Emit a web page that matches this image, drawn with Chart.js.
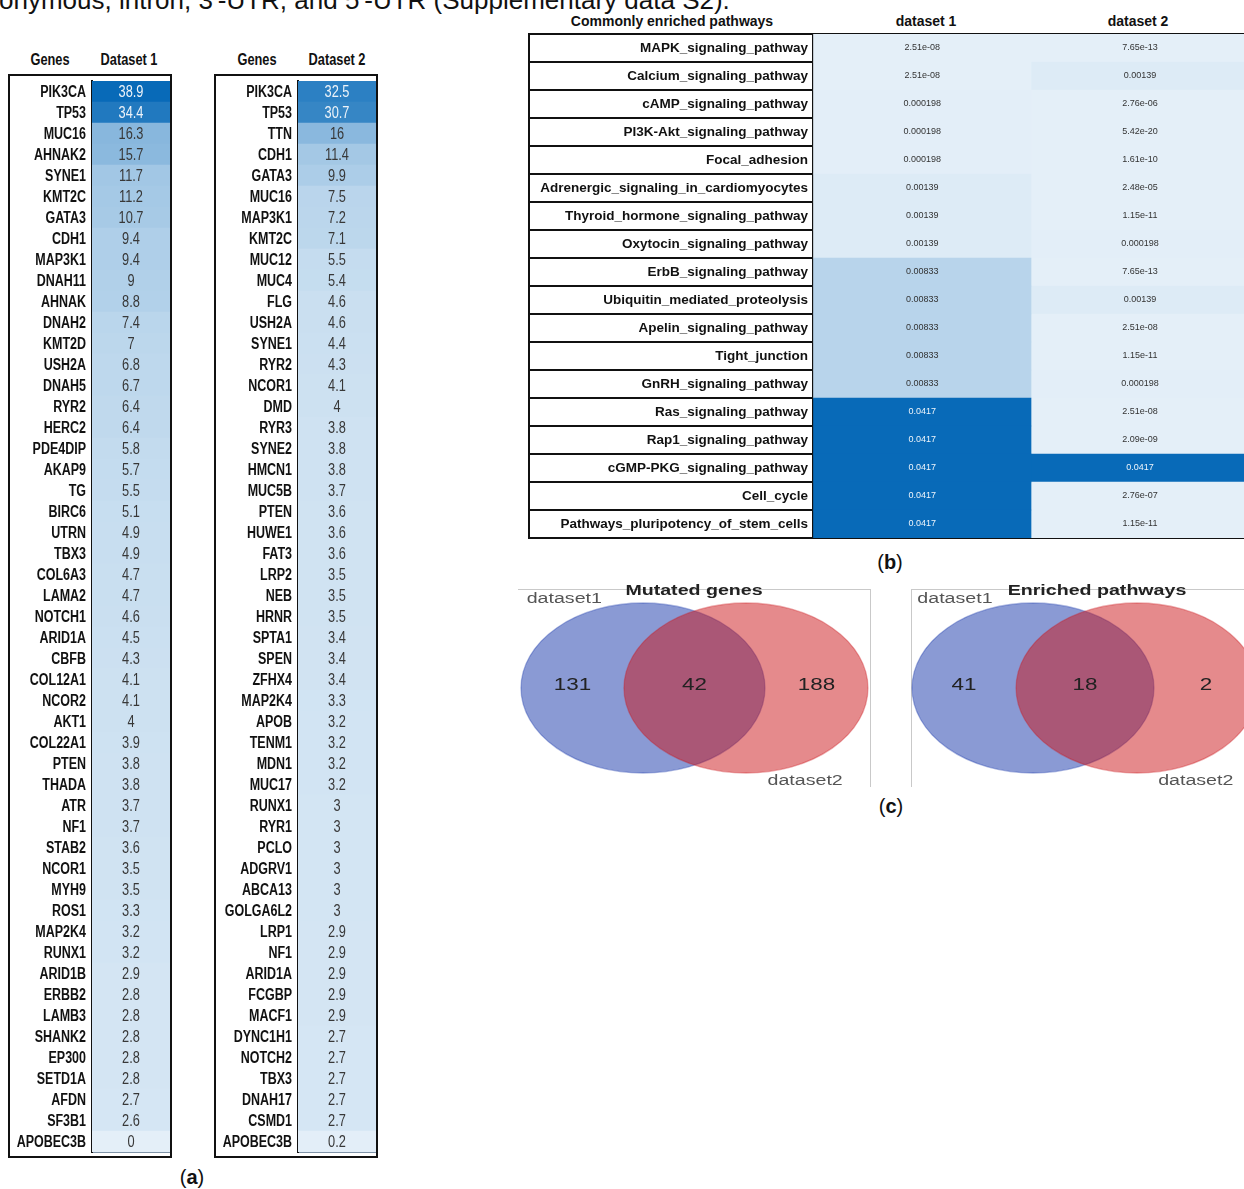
<!DOCTYPE html>
<html>
<head>
<meta charset="utf-8">
<title>Mutated genes and commonly enriched pathways</title>
<script src="https://cdn.jsdelivr.net/npm/chart.js@4.4.1/dist/chart.umd.min.js"></script>
<style>
  body { margin: 0; background: #fff; }
  #page { position: relative; width: 1244px; height: 1189px; overflow: hidden; font-family: "Liberation Sans", Arial, sans-serif; color: #111; }
  #page canvas { position: absolute; }
  .txt { position: absolute; white-space: nowrap; line-height: 1; transform: translate(-50%, -50%); }
  .head { font-weight: bold; font-size: 16px; transform: translate(-50%, -50%) scaleX(0.8); }
  .bhead { font-weight: bold; font-size: 14px; }
  .panel { font-size: 20px; }
  .vtitle { font-weight: bold; font-size: 14px; color: #222; transform: translate(-50%, -50%) scaleX(1.4); }
  .rule { position: absolute; background: #c9c9c9; }
</style>
</head>
<body>
<div id="page">
  <div style="position:absolute;left:-1px;top:-13px;font-size:26px;line-height:26px;white-space:nowrap;">onymous, intron, 3′-UTR, and 5′-UTR (Supplementary data S2).</div>

  <!-- (a) headers -->
  <div class="txt head" style="left:50px;top:60px;">Genes</div>
  <div class="txt head" style="left:129px;top:60px;">Dataset 1</div>
  <div class="txt head" style="left:257px;top:60px;">Genes</div>
  <div class="txt head" style="left:337px;top:60px;">Dataset 2</div>
  <canvas id="tblA1" width="164" height="1084" style="left:8px;top:74px;"></canvas>
  <canvas id="tblA2" width="164" height="1084" style="left:214px;top:74px;"></canvas>
  <div class="txt panel" style="left:192px;top:1177px;">(<b>a</b>)</div>

  <!-- (b) -->
  <div class="txt bhead" style="left:672px;top:21px;">Commonly enriched pathways</div>
  <div class="txt bhead" style="left:926px;top:21px;">dataset 1</div>
  <div class="txt bhead" style="left:1138px;top:21px;">dataset 2</div>
  <canvas id="tblB" width="716" height="506" style="left:528px;top:33px;"></canvas>
  <div class="txt panel" style="left:890px;top:562px;">(<b>b</b>)</div>

  <!-- (c) -->
  <div class="rule" style="left:518px;top:589px;width:352px;height:1px;"></div>
  <div class="rule" style="left:870px;top:589px;width:1px;height:198px;"></div>
  <div class="rule" style="left:911px;top:589px;width:333px;height:1px;"></div>
  <div class="rule" style="left:911px;top:589px;width:1px;height:198px;"></div>
  <canvas id="vennGenes" width="362" height="205" style="left:510px;top:585px;"></canvas>
  <canvas id="vennPaths" width="339" height="205" style="left:905px;top:585px;"></canvas>
  <div class="txt vtitle" style="left:694px;top:590px;">Mutated genes</div>
  <div class="txt vtitle" style="left:1097px;top:590px;">Enriched pathways</div>
  <div class="txt panel" style="left:891px;top:806px;">(<b>c</b>)</div>
</div>

<script>
// ---- data ----
const genes1 = ['PIK3CA', 'TP53', 'MUC16', 'AHNAK2', 'SYNE1', 'KMT2C', 'GATA3', 'CDH1', 'MAP3K1', 'DNAH11',
    'AHNAK', 'DNAH2', 'KMT2D', 'USH2A', 'DNAH5', 'RYR2', 'HERC2', 'PDE4DIP', 'AKAP9', 'TG',
    'BIRC6', 'UTRN', 'TBX3', 'COL6A3', 'LAMA2', 'NOTCH1', 'ARID1A', 'CBFB', 'COL12A1', 'NCOR2',
    'AKT1', 'COL22A1', 'PTEN', 'THADA', 'ATR', 'NF1', 'STAB2', 'NCOR1', 'MYH9', 'ROS1',
    'MAP2K4', 'RUNX1', 'ARID1B', 'ERBB2', 'LAMB3', 'SHANK2', 'EP300', 'SETD1A', 'AFDN', 'SF3B1', 'APOBEC3B'];
const freq1 = [38.9, 34.4, 16.3, 15.7, 11.7, 11.2, 10.7, 9.4, 9.4, 9,
    8.8, 7.4, 7, 6.8, 6.7, 6.4, 6.4, 5.8, 5.7, 5.5,
    5.1, 4.9, 4.9, 4.7, 4.7, 4.6, 4.5, 4.3, 4.1, 4.1,
    4, 3.9, 3.8, 3.8, 3.7, 3.7, 3.6, 3.5, 3.5, 3.3,
    3.2, 3.2, 2.9, 2.8, 2.8, 2.8, 2.8, 2.8, 2.7, 2.6, 0];

const genes2 = ['PIK3CA', 'TP53', 'TTN', 'CDH1', 'GATA3', 'MUC16', 'MAP3K1', 'KMT2C', 'MUC12', 'MUC4',
    'FLG', 'USH2A', 'SYNE1', 'RYR2', 'NCOR1', 'DMD', 'RYR3', 'SYNE2', 'HMCN1', 'MUC5B',
    'PTEN', 'HUWE1', 'FAT3', 'LRP2', 'NEB', 'HRNR', 'SPTA1', 'SPEN', 'ZFHX4', 'MAP2K4',
    'APOB', 'TENM1', 'MDN1', 'MUC17', 'RUNX1', 'RYR1', 'PCLO', 'ADGRV1', 'ABCA13', 'GOLGA6L2',
    'LRP1', 'NF1', 'ARID1A', 'FCGBP', 'MACF1', 'DYNC1H1', 'NOTCH2', 'TBX3', 'DNAH17', 'CSMD1', 'APOBEC3B'];
const freq2 = [32.5, 30.7, 16, 11.4, 9.9, 7.5, 7.2, 7.1, 5.5, 5.4,
    4.6, 4.6, 4.4, 4.3, 4.1, 4, 3.8, 3.8, 3.8, 3.7,
    3.6, 3.6, 3.6, 3.5, 3.5, 3.5, 3.4, 3.4, 3.4, 3.3,
    3.2, 3.2, 3.2, 3.2, 3, 3, 3, 3, 3, 3,
    2.9, 2.9, 2.9, 2.9, 2.9, 2.7, 2.7, 2.7, 2.7, 2.7, 0.2];

const pathways = ['MAPK_signaling_pathway', 'Calcium_signaling_pathway', 'cAMP_signaling_pathway',
    'PI3K-Akt_signaling_pathway', 'Focal_adhesion', 'Adrenergic_signaling_in_cardiomyocytes',
    'Thyroid_hormone_signaling_pathway', 'Oxytocin_signaling_pathway', 'ErbB_signaling_pathway',
    'Ubiquitin_mediated_proteolysis', 'Apelin_signaling_pathway', 'Tight_junction',
    'GnRH_signaling_pathway', 'Ras_signaling_pathway', 'Rap1_signaling_pathway',
    'cGMP-PKG_signaling_pathway', 'Cell_cycle', 'Pathways_pluripotency_of_stem_cells'];
// p-values kept as printed in the cells
const pval1 = ['2.51e-08', '2.51e-08', '0.000198', '0.000198', '0.000198', '0.00139', '0.00139', '0.00139', '0.00833',
    '0.00833', '0.00833', '0.00833', '0.00833', '0.0417', '0.0417', '0.0417', '0.0417', '0.0417'];
const pval2 = ['7.65e-13', '0.00139', '2.76e-06', '5.42e-20', '1.61e-10', '2.48e-05', '1.15e-11', '0.000198', '7.65e-13',
    '0.00139', '2.51e-08', '1.15e-11', '0.000198', '2.51e-08', '2.09e-09', '0.0417', '2.76e-07', '1.15e-11'];

const vennSets = ['dataset1', 'dataset2'];
const geneCounts = [131, 42, 188];      // only dataset1, both, only dataset2
const pathwayCounts = [41, 18, 2];

// ---- colours ----
const LIGHT = [228, 239, 248];
const DARK = [8, 106, 184];
const FREQ_MAX = Math.max(...freq1, ...freq2);
const P_MAX = Math.max(...pval1.map(Number), ...pval2.map(Number));

function shade(t) {
    t = Math.max(0, Math.min(1, t));
    const c = LIGHT.map((l, i) => Math.round(l + (DARK[i] - l) * t));
    return `rgb(${c})`;
}

const SANS = '"Liberation Sans", Arial, sans-serif';

// text squeezed sideways (the gene tables use a condensed face)
function squeezed(ctx, txt, x, y, sx) {
    ctx.save();
    ctx.translate(x, y);
    ctx.scale(sx, 1);
    ctx.fillText(txt, 0, 0);
    ctx.restore();
}

// value written in the middle of each cell
const cellText = {
    id: 'cellText',
    afterDatasetsDraw(chart, args, opts) {
        const ctx = chart.ctx;
        ctx.save();
        ctx.font = opts.font;
        ctx.textAlign = 'center';
        ctx.textBaseline = 'middle';
        chart.data.datasets.forEach((ds, d) => {
            chart.getDatasetMeta(d).data.forEach((bar, i) => {
                ctx.fillStyle = ds.level[i] > 0.5 ? opts.light : opts.dark;
                squeezed(ctx, ds.text[i], (bar.x + bar.base) / 2, bar.y + (opts.dy || 0), opts.sx || 1);
            });
        });
        ctx.restore();
    }
};

// category labels of the y scale, condensed
const narrowLabels = {
    id: 'narrowLabels',
    afterDraw(chart, args, opts) {
        const { ctx, scales: { y } } = chart;
        ctx.save();
        ctx.font = opts.font;
        ctx.fillStyle = opts.color;
        ctx.textAlign = 'right';
        ctx.textBaseline = 'middle';
        y.ticks.forEach((t, i) => {
            squeezed(ctx, y.getLabelForValue(t.value), y.right - opts.padding, y.getPixelForTick(i) + (opts.dy || 0), opts.sx);
        });
        ctx.restore();
    }
};

// outer black frame of a table
const tableFrame = {
    id: 'tableFrame',
    afterDraw(chart, args, opts) {
        const { ctx, chartArea: a } = chart;
        const w = opts.width, h = w / 2;
        ctx.save();
        ctx.strokeStyle = opts.color;
        ctx.lineWidth = w;
        if (opts.box === 'canvas') {
            ctx.strokeRect(h, h, chart.width - w, chart.height - w);
        } else {
            const x0 = chart.scales.y.left + h;
            ctx.beginPath();
            ctx.moveTo(x0, a.top - h);
            ctx.lineTo(x0, a.bottom + h);
            ctx.stroke();
        }
        ctx.restore();
    }
};

function geneTable(id, genes, freq) {
    return new Chart(document.getElementById(id), {
        type: 'bar',
        data: {
            labels: genes,
            datasets: [{
                data: freq.map(() => [0, 1]),
                text: freq.map(String),
                level: freq.map(v => v / FREQ_MAX),
                backgroundColor: freq.map(v => shade(v / FREQ_MAX)),
                barPercentage: 1,
                categoryPercentage: 1,
                borderWidth: 0
            }]
        },
        options: {
            indexAxis: 'y',
            responsive: false,
            animation: false,
            events: [],
            layout: { padding: { top: 7, bottom: 6, left: 0, right: 2 } },
            plugins: {
                legend: { display: false },
                tooltip: { enabled: false },
                cellText: { font: '16px ' + SANS, light: '#edf3f9', dark: '#383838', dy: 1, sx: 0.8 },
                narrowLabels: { font: 'bold 16px ' + SANS, color: '#111', padding: 6, dy: 1, sx: 0.78 },
                tableFrame: { box: 'canvas', color: '#111', width: 2 }
            },
            scales: {
                x: { display: false, min: 0, max: 1 },
                y: {
                    afterFit: s => { s.width = 84; s.paddingTop = 0; s.paddingBottom = 0; },
                    z: 1,
                    grid: { offset: true, drawTicks: false, color: '#7f93a7', lineWidth: 1 },
                    border: { display: true, color: '#111', width: 2 },
                    ticks: { autoSkip: false, display: false }
                }
            }
        },
        plugins: [cellText, narrowLabels, tableFrame]
    });
}

geneTable('tblA1', genes1, freq1);
geneTable('tblA2', genes2, freq2);

function pColumn(vals, col) {
    return {
        data: vals.map(() => [col, col + 1]),
        text: vals,
        level: vals.map(v => Number(v) / P_MAX),
        backgroundColor: vals.map(v => shade(Number(v) / P_MAX)),
        barPercentage: 1,
        categoryPercentage: 1,
        borderWidth: 0,
        grouped: false
    };
}

new Chart(document.getElementById('tblB'), {
    type: 'bar',
    data: { labels: pathways, datasets: [pColumn(pval1, 0), pColumn(pval2, 1)] },
    options: {
        indexAxis: 'y',
        responsive: false,
        animation: false,
        events: [],
        layout: { padding: { top: 1, bottom: 1, left: 0, right: 0 } },
        plugins: {
            legend: { display: false },
            tooltip: { enabled: false },
            cellText: { font: '9px ' + SANS, light: '#eef5fb', dark: '#333' },
            tableFrame: { box: 'labels', color: '#111', width: 2 }
        },
        scales: {
            x: {
                min: 0, max: 1.977, position: 'top', z: 1,
                ticks: { display: false, stepSize: 1 },
                grid: { drawTicks: false, lineWidth: 1, color: c => c.tick && c.tick.value === 1 ? '#9aa4ae' : 'rgba(0,0,0,0)' },
                border: { display: false }
            },
            y: {
                afterFit: s => { s.width = 285; s.paddingTop = 0; s.paddingBottom = 0; },
                z: 1,
                // long tick marks carry the row rules across the name column
                grid: { offset: true, color: '#111', lineWidth: 2, drawTicks: true, tickLength: 284, tickColor: '#111', tickWidth: 2 },
                border: { display: true, color: '#111', width: 2 },
                ticks: { autoSkip: false, padding: -279, color: '#111', font: { family: SANS, size: 13.5, weight: 'bold' } }
            }
        }
    },
    plugins: [cellText, tableFrame]
});

// ---- Venn diagrams: two ellipses around centres placed through the scales ----
const vennShapes = {
    id: 'vennShapes',
    afterDatasetsDraw(chart, args, opts) {
        const { ctx, scales: { x, y } } = chart;
        const ds = chart.data.datasets[0];
        const shapes = chart.getDatasetMeta(0).data.map((pt, i) => ({
            cx: pt.x,
            cy: pt.y,
            rx: x.getPixelForValue(ds.data[i].x + opts.radius) - pt.x,
            ry: pt.y - y.getPixelForValue(ds.data[i].y + opts.radius)
        }));
        ctx.save();
        shapes.forEach((s, i) => {
            ctx.beginPath();
            ctx.ellipse(s.cx, s.cy, s.rx, s.ry, 0, 0, Math.PI * 2);
            ctx.fillStyle = opts.fills[i];
            ctx.fill();
            ctx.strokeStyle = opts.strokes[i];
            ctx.lineWidth = 1.3;
            ctx.stroke();
        });
        const [a, b] = shapes;
        const xs = [(a.cx - a.rx + b.cx - b.rx) / 2, (b.cx - b.rx + a.cx + a.rx) / 2, (a.cx + a.rx + b.cx + b.rx) / 2];
        ctx.textAlign = 'center';
        ctx.font = '16px ' + SANS;
        ctx.fillStyle = '#222';
        ctx.textBaseline = 'middle';
        ds.counts.forEach((n, i) => squeezed(ctx, String(n), xs[i], a.cy - 2, 1.4));
        ctx.font = '14px ' + SANS;
        ctx.fillStyle = '#555';
        ctx.textBaseline = 'alphabetic';
        squeezed(ctx, ds.sets[0], a.cx - 0.645 * a.rx, a.cy - a.ry, 1.4);
        squeezed(ctx, ds.sets[1], b.cx + 0.485 * b.rx, b.cy + b.ry + 12, 1.4);
        ctx.restore();
    }
};

function venn(id, counts, xRange, redX) {
    return new Chart(document.getElementById(id), {
        type: 'scatter',
        data: {
            datasets: [{
                data: [{ x: 0, y: 0 }, { x: redX, y: 0 }],
                counts: counts,
                sets: vennSets,
                pointRadius: 0
            }]
        },
        options: {
            responsive: false,
            animation: false,
            events: [],
            layout: { padding: 0 },
            plugins: {
                legend: { display: false },
                tooltip: { enabled: false },
                vennShapes: {
                    radius: 1,
                    fills: ['rgba(21,53,169,0.5)', 'rgba(203,21,25,0.5)'],
                    strokes: ['rgba(21,53,169,0.35)', 'rgba(203,21,25,0.35)']
                }
            },
            scales: {
                x: { display: false, min: xRange[0], max: xRange[1] },
                y: { display: false, min: -1.2, max: 1.212 }
            }
        },
        plugins: [vennShapes]
    });
}

venn('vennGenes', geneCounts, [-1.09, 1.877], 0.844);
venn('vennPaths', pathwayCounts, [-1.058, 1.744], 0.86);
</script>
</body>
</html>
